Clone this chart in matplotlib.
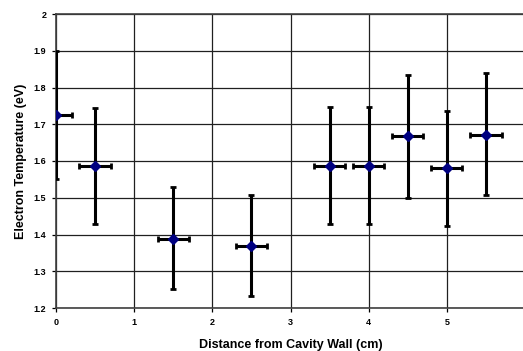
import matplotlib
matplotlib.use('Agg')
import matplotlib.pyplot as plt

# distance from cavity wall (cm) and electron temperature (eV)
dist = [0, 0.5, 1.5, 2.5, 3.5, 4.0, 4.5, 5.0, 5.5]
temp = [1.725, 1.587, 1.389, 1.369, 1.587, 1.587, 1.667, 1.580, 1.672]
err_lo = [0.174, 0.158, 0.138, 0.136, 0.158, 0.158, 0.167, 0.158, 0.165]
err_hi = [0.175, 0.158, 0.139, 0.138, 0.159, 0.159, 0.166, 0.157, 0.167]
xerr = [0.2] * len(dist)

plt.rcParams['font.family'] = ['Liberation Sans', 'DejaVu Sans']

fig = plt.figure(figsize=(5.23, 3.51), dpi=100)
ax = fig.add_axes([56/523, 1-308/351, 469/523, 294/351])

ax.errorbar(dist, temp, yerr=[err_lo, err_hi], xerr=xerr, fmt='D',
            color='black', ecolor='black', elinewidth=2.2, capsize=2.5, capthick=2,
            markerfacecolor='#000080', markeredgecolor='#000080', markersize=5.5,
            zorder=3)

ax.set_xlim(0, 6)
ax.set_ylim(1.2, 2.0)
ax.set_xticks(range(0, 7))
ax.set_yticks([1.2, 1.3, 1.4, 1.5, 1.6, 1.7, 1.8, 1.9, 2.0])
ax.set_yticklabels(['1.2', '1.3', '1.4', '1.5', '1.6', '1.7', '1.8', '1.9', '2'])
ax.grid(True, color='#202020', linewidth=0.9)
ax.set_axisbelow(True)
for s in ax.spines.values():
    s.set_color('#404040')
    s.set_linewidth(1.2)
ax.tick_params(labelsize=6.5, length=3, width=0.9, direction='out', pad=4)
for lab in ax.get_xticklabels() + ax.get_yticklabels():
    lab.set_fontweight('bold')

ax.set_xlabel('Distance from Cavity Wall (cm)', fontsize=9, fontweight='bold', labelpad=9)
ax.set_ylabel('Electron Temperature (eV)', fontsize=9, fontweight='bold', labelpad=5)

fig.savefig('out.png', dpi=100)
